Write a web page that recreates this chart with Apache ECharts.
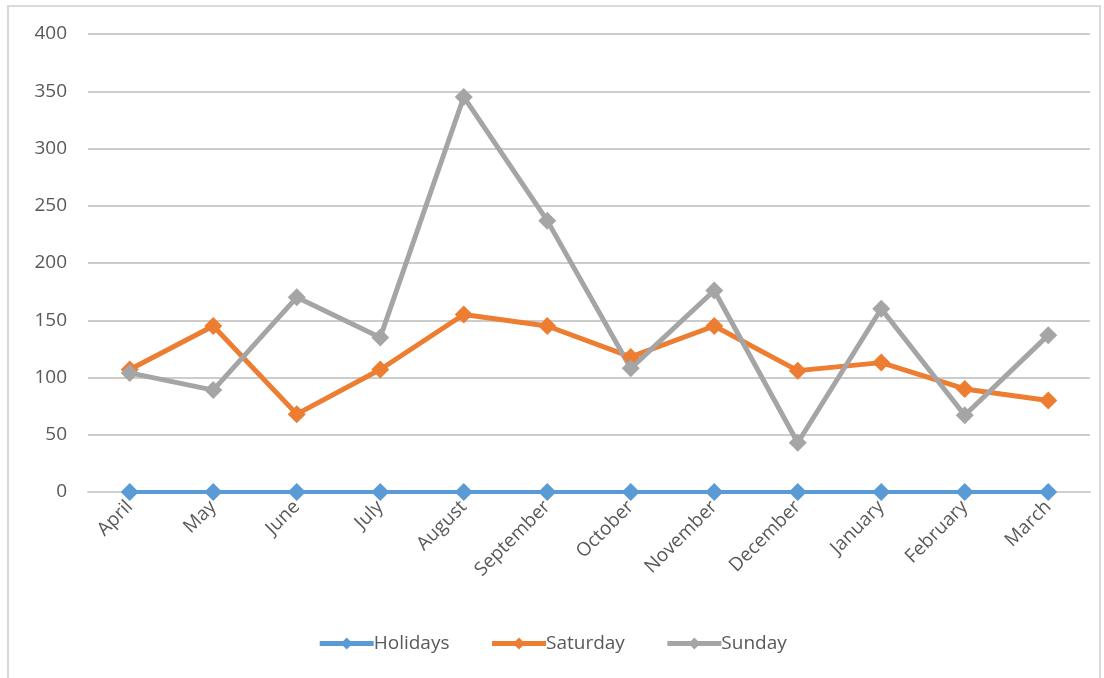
<!DOCTYPE html>
<html>
<head>
<meta charset="utf-8">
<script src="https://cdn.jsdelivr.net/npm/echarts@6/dist/echarts.min.js"></script>
<style>
  html, body { margin: 0; padding: 0; background: #fff; }
  #frame { position: absolute; left: 7px; top: 5px; width: 1094px; height: 690px; border: 2px solid #d9d9d9; box-sizing: border-box; }
  #chart { position: absolute; left: 0; top: 0; width: 1104px; height: 678px; }
</style>
</head>
<body>
<div id="frame"></div>
<div id="chart"></div>
<script>
  // 月份
  var months = ["April", "May", "June", "July", "August", "September", "October", "November", "December", "January", "February", "March"];
  var holidays = [0, 0, 0, 0, 0, 0, 0, 0, 0, 0, 0, 0];
  var saturday = [107, 145, 68, 107, 155, 145, 118, 145, 106, 113, 90, 80];
  var sunday = [104, 89, 170, 135, 345, 237, 108, 176, 43, 160, 67, 137];
  var yTicks = [0, 50, 100, 150, 200, 250, 300, 350, 400];

  var font = "'Open Sans', 'Liberation Sans', sans-serif";

  function lineSeries(name, data, color, width) {
    return {
      name: name,
      type: "line",
      data: data,
      symbol: "diamond",
      symbolSize: 18,
      lineStyle: { color: color, width: width },
      itemStyle: { color: color },
      emphasis: { disabled: true }
    };
  }

  var myChart = echarts.init(document.getElementById("chart"));
  var option = {
    animation: false,
    grid: { left: 88, right: 14, top: 34, bottom: 186 },
    legend: {
      bottom: 20,
      left: "center",
      itemWidth: 54,
      itemHeight: 15,
      itemGap: 40,
      lineStyle: { width: 5 },
      textStyle: { color: "#595959", fontSize: 19, fontFamily: font, padding: [0, 0, 0, -5] },
      data: ["Holidays", "Saturday", "Sunday"]
    },
    xAxis: {
      type: "category",
      data: months,
      boundaryGap: true,
      axisLine: { lineStyle: { color: "#d0d0d0", width: 2 } },
      axisTick: { show: false },
      axisLabel: { color: "#595959", fontSize: 19, fontFamily: font, rotate: 45, margin: 12, interval: 0 }
    },
    yAxis: {
      type: "value",
      min: yTicks[0],
      max: yTicks[yTicks.length - 1],
      interval: 50,
      axisLine: { show: false },
      axisTick: { show: false },
      axisLabel: { color: "#595959", fontSize: 19, fontFamily: font, margin: 21 },
      splitLine: { lineStyle: { color: "#cccccc", width: 2 } }
    },
    series: [
      lineSeries("Holidays", holidays, "#5b9bd5", 4),
      lineSeries("Saturday", saturday, "#ed7d31", 5),
      lineSeries("Sunday", sunday, "#a5a5a5", 5)
    ]
  };
  myChart.setOption(option);
</script>
</body>
</html>
